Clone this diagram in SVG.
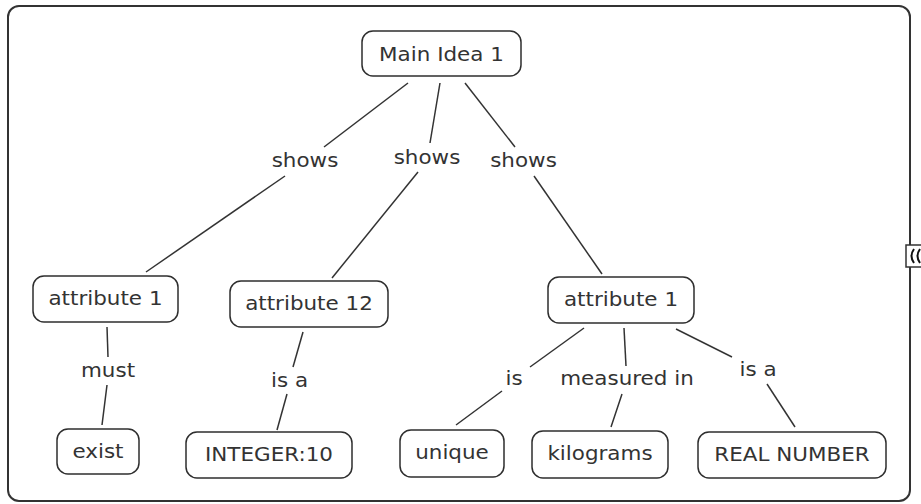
<svg xmlns="http://www.w3.org/2000/svg" width="921" height="504" viewBox="0 0 921 504">
<style>
.n{fill:#fff;stroke:#2e2e2e;stroke-width:1.5}
.t{font-family:"DejaVu Sans",Verdana,sans-serif;font-size:19px;fill:#333;text-anchor:middle}
.c line{stroke:#333;stroke-width:1.5}
.frame{fill:#fff;stroke:#333;stroke-width:2}
</style>
<rect class="frame" x="8" y="6" width="902" height="495" rx="11"/>
<g id="toggle">
<rect x="906" y="245" width="20" height="22" fill="#fff" stroke="#333" stroke-width="1.5"/>
<path d="M914 249 Q909 256 914 263" fill="none" stroke="#111" stroke-width="2"/>
<path d="M920 249 Q915 256 920 263" fill="none" stroke="#111" stroke-width="2"/>
</g>
<g id="connectors" class="c">
<line x1="408" y1="83" x2="324" y2="147"/>
<line x1="285" y1="176" x2="146" y2="272"/>
<line x1="440" y1="83" x2="430" y2="143"/>
<line x1="418" y1="172" x2="332" y2="278"/>
<line x1="465" y1="83" x2="515" y2="147"/>
<line x1="534" y1="176" x2="602" y2="274"/>
<line x1="107" y1="327" x2="108" y2="357"/>
<line x1="107" y1="385" x2="102" y2="425"/>
<line x1="303" y1="332" x2="293" y2="367"/>
<line x1="287" y1="394" x2="277" y2="430"/>
<line x1="584" y1="328" x2="530" y2="367"/>
<line x1="502" y1="391" x2="456" y2="425"/>
<line x1="624" y1="328" x2="626" y2="366"/>
<line x1="622" y1="394" x2="611" y2="427"/>
<line x1="676" y1="329" x2="732" y2="357"/>
<line x1="767" y1="384" x2="795" y2="427"/>
</g>
<g id="labels">
<text class="t" transform="translate(305 167) scale(1.13 1)">shows</text>
<text class="t" transform="translate(427 164) scale(1.13 1)">shows</text>
<text class="t" transform="translate(523.5 167) scale(1.13 1)">shows</text>
<text class="t" transform="translate(108 377) scale(1.13 1)">must</text>
<text class="t" transform="translate(289.5 387) scale(1.13 1)">is a</text>
<text class="t" transform="translate(514 385) scale(1.13 1)">is</text>
<text class="t" transform="translate(627 385) scale(1.13 1)">measured in</text>
<text class="t" transform="translate(758 376) scale(1.13 1)">is a</text>
</g>
<g id="main"><rect class="n" x="362" y="31" width="159" height="45" rx="11"/><text class="t" transform="translate(441.5 61) scale(1.13 1)">Main Idea 1</text></g>
<g id="attr1-left"><rect class="n" x="33" y="276" width="145" height="46" rx="11"/><text class="t" transform="translate(105.5 305) scale(1.13 1)">attribute 1</text></g>
<g id="attr12"><rect class="n" x="230" y="281" width="158" height="46" rx="11"/><text class="t" transform="translate(309 310) scale(1.13 1)">attribute 12</text></g>
<g id="attr1-right"><rect class="n" x="548" y="277" width="146" height="46" rx="11"/><text class="t" transform="translate(621 306) scale(1.13 1)">attribute 1</text></g>
<g id="exist"><rect class="n" x="57" y="429" width="82" height="45" rx="11"/><text class="t" transform="translate(98 458) scale(1.13 1)">exist</text></g>
<g id="integer"><rect class="n" x="186" y="432" width="166" height="46" rx="11"/><text class="t" transform="translate(269 461) scale(1.13 1)">INTEGER:10</text></g>
<g id="unique"><rect class="n" x="400" y="430" width="104" height="47" rx="11"/><text class="t" transform="translate(452 459) scale(1.13 1)">unique</text></g>
<g id="kilograms"><rect class="n" x="532" y="431" width="136" height="47" rx="11"/><text class="t" transform="translate(600 460) scale(1.13 1)">kilograms</text></g>
<g id="real"><rect class="n" x="698" y="432" width="188" height="46" rx="11"/><text class="t" transform="translate(792 461) scale(1.13 1)">REAL NUMBER</text></g>
</svg>
